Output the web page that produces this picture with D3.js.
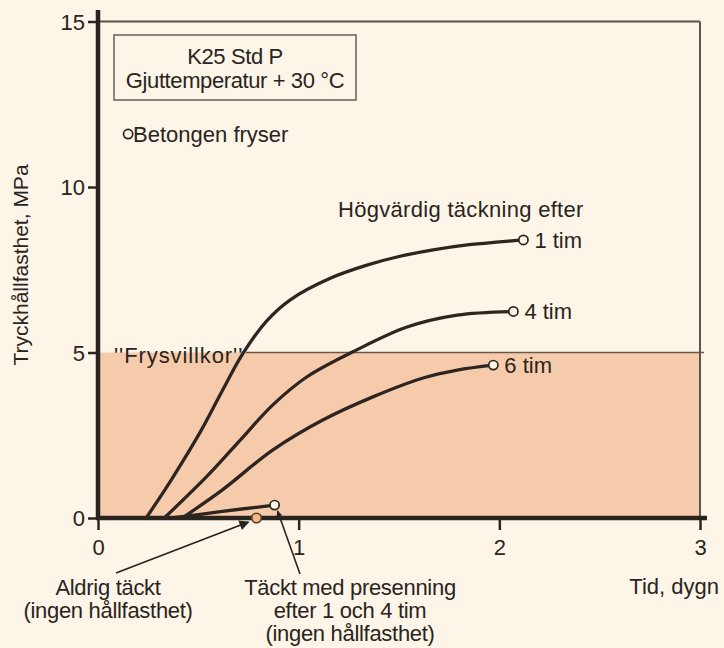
<!DOCTYPE html>
<html>
<head>
<meta charset="utf-8">
<script src="https://cdn.jsdelivr.net/npm/d3@7"></script>
<style>
  html, body { margin: 0; padding: 0; background: #fcf5e8; }
  svg { display: block; }
  text { font-family: "Liberation Sans", Arial, Helvetica, sans-serif; fill: #2a2420; }
</style>
</head>
<body>
<svg id="chart" width="724" height="648"></svg>
<script>
// Strength development: days after casting (x) vs compressive strength in MPa (y)
const xTicks = [0, 1, 2, 3];
const yTicks = [0, 5, 10, 15];

const curve1h = [[0.24, 0], [0.37, 1.2], [0.51, 2.6], [0.62, 3.85], [0.72, 4.95], [0.84, 5.95],
                 [0.96, 6.6], [1.16, 7.25], [1.34, 7.64], [1.50, 7.9], [1.67, 8.1],
                 [1.84, 8.25], [2.00, 8.34], [2.12, 8.40]];
const curve4h = [[0.33, 0], [0.54, 1.24], [0.71, 2.36], [0.87, 3.41], [1.04, 4.26], [1.27, 5.02],
                 [1.54, 5.77], [1.79, 6.13], [2.07, 6.24]];
const curve6h = [[0.42, 0], [0.62, 0.85], [0.87, 2.05], [1.12, 2.96], [1.37, 3.66], [1.62, 4.23],
                 [1.79, 4.47], [1.97, 4.62]];
const coveredTarp = [[0.37, 0], [0.62, 0.2], [0.88, 0.39]];
const neverCovered = [[0.79, 0]];
const freezePoint = [[0.15, 11.6]];
const freezeLimit = 5;

const seriesLabels = ["1 tim", "4 tim", "6 tim"];

const svg = d3.select("#chart");
const ink = "#2a2420";
const FS = 22;

const x = d3.scaleLinear().domain([0, 3]).range([98, 700]);
const y = d3.scaleLinear().domain([0, 15]).range([518, 21.5]);

// Shaded "freezing condition" band below 5 MPa
svg.append("rect")
  .attr("x", x(0)).attr("y", y(freezeLimit))
  .attr("width", x(3) - x(0)).attr("height", y(0) - y(freezeLimit))
  .attr("fill", "#f6cbab");

// Frame lines at the top and right
svg.append("line").attr("x1", x(0)).attr("x2", x(3)).attr("y1", y(15)).attr("y2", y(15))
  .attr("stroke", "#5a5550").attr("stroke-width", 2);
svg.append("line").attr("x1", x(3)).attr("x2", x(3)).attr("y1", y(15)).attr("y2", y(0))
  .attr("stroke", "#5a5550").attr("stroke-width", 2);

// 5 MPa limit line
svg.append("line").attr("x1", 246).attr("x2", x(3) + 4).attr("y1", y(freezeLimit)).attr("y2", y(freezeLimit))
  .attr("stroke", "#6e5648").attr("stroke-width", 1.6);

svg.append("text").attr("x", 114).attr("y", y(freezeLimit) + 10)
  .attr("font-size", FS).attr("letter-spacing", "0.9px").text("''Frysvillkor''");

// Axes
const yAxis = d3.axisLeft(y).tickValues(yTicks).tickSize(10).tickPadding(3).tickFormat(d3.format("d"));
const xAxis = d3.axisBottom(x).tickValues(xTicks).tickSize(12).tickPadding(9).tickFormat(d3.format("d"));

const gy = svg.append("g").attr("transform", `translate(${x(0)},0)`).call(yAxis);
const gx = svg.append("g").attr("transform", `translate(0,${y(0)})`).call(xAxis);

[gy, gx].forEach(g => {
  g.select(".domain").remove();
  g.selectAll(".tick line").attr("stroke", ink).attr("stroke-width", 2.5);
  g.selectAll(".tick text").attr("font-size", FS).attr("fill", ink)
    .style("font-family", "'Liberation Sans', Arial, sans-serif");
});
gy.selectAll(".tick text").attr("dy", "0.36em");

svg.append("line").attr("x1", x(0)).attr("x2", x(0)).attr("y1", 10).attr("y2", y(0) + 2)
  .attr("stroke", ink).attr("stroke-width", 4.5);
svg.append("line").attr("x1", x(0) - 2).attr("x2", x(3) + 7).attr("y1", y(0)).attr("y2", y(0))
  .attr("stroke", ink).attr("stroke-width", 4.5);

// Axis titles
svg.append("text").attr("transform", `translate(28,265) rotate(-90)`)
  .attr("text-anchor", "middle").attr("font-size", 21).text("Tryckhållfasthet, MPa");
svg.append("text").attr("x", 719).attr("y", 594).attr("text-anchor", "end")
  .attr("font-size", FS).text("Tid, dygn");

// Info box
svg.append("rect").attr("x", 114).attr("y", 35).attr("width", 242).attr("height", 65)
  .attr("fill", "none").attr("stroke", "#5a5550").attr("stroke-width", 1.4);
svg.append("text").attr("x", 235).attr("y", 64).attr("text-anchor", "middle")
  .attr("font-size", FS).attr("letter-spacing", "-0.4px").text("K25 Std P");
svg.append("text").attr("x", 235).attr("y", 88).attr("text-anchor", "middle")
  .attr("font-size", FS).attr("letter-spacing", "-0.4px").text("Gjuttemperatur + 30 °C");

// Strength curves
const line = d3.line().x(d => x(d[0])).y(d => y(d[1])).curve(d3.curveCatmullRom.alpha(0.5));
[curve1h, curve4h, curve6h, coveredTarp].forEach(c => {
  svg.append("path").datum(c).attr("d", line)
    .attr("fill", "none").attr("stroke", "#2e2420").attr("stroke-width", 3.3)
    .attr("stroke-linecap", "round");
});

// End markers
const ends = [curve1h, curve4h, curve6h, coveredTarp].map(c => c[c.length - 1]);
svg.selectAll("circle.end").data(ends.concat(freezePoint)).join("circle")
  .attr("cx", d => x(d[0])).attr("cy", d => y(d[1])).attr("r", 4.6)
  .attr("fill", "#fcf5e8").attr("stroke", "#2e2420").attr("stroke-width", 1.7);
svg.selectAll("circle.never").data(neverCovered).join("circle")
  .attr("cx", d => x(d[0])).attr("cy", d => y(d[1])).attr("r", 4.8)
  .attr("fill", "#f2b584").attr("stroke", "#5a3a28").attr("stroke-width", 1.6);

// Series labels
svg.append("text").attr("x", 338).attr("y", 217).attr("font-size", FS)
  .attr("letter-spacing", "0.3px").text("Högvärdig täckning efter");
[curve1h, curve4h, curve6h].forEach((c, i) => {
  const p = c[c.length - 1];
  svg.append("text").attr("x", x(p[0]) + 11).attr("y", y(p[1]) + 8)
    .attr("font-size", FS).text(seriesLabels[i]);
});

svg.append("text").attr("x", x(freezePoint[0][0]) + 5).attr("y", y(freezePoint[0][1]) + 8)
  .attr("font-size", FS).text("Betongen fryser");

// Annotations with leader arrows
const defs = svg.append("defs");
defs.append("marker").attr("id", "arr").attr("viewBox", "0 0 10 10")
  .attr("refX", 9).attr("refY", 5).attr("markerWidth", 7).attr("markerHeight", 6)
  .attr("orient", "auto").attr("markerUnits", "userSpaceOnUse")
  .append("path").attr("d", "M0,0 L10,5 L0,10 z").attr("fill", ink);
defs.append("marker").attr("id", "arrBig").attr("viewBox", "0 0 10 10")
  .attr("refX", 9).attr("refY", 5).attr("markerWidth", 14).attr("markerHeight", 10)
  .attr("orient", "auto").attr("markerUnits", "userSpaceOnUse")
  .append("path").attr("d", "M0,0 L10,5 L0,10 z").attr("fill", ink);

svg.append("line").attr("x1", 116).attr("y1", 573).attr("x2", x(neverCovered[0][0]) - 8).attr("y2", y(0) + 4)
  .attr("stroke", ink).attr("stroke-width", 1.8).attr("marker-end", "url(#arrBig)");
svg.append("line").attr("x1", 300).attr("y1", 574).attr("x2", x(coveredTarp[2][0]) + 3).attr("y2", y(coveredTarp[2][1]) + 6)
  .attr("stroke", ink).attr("stroke-width", 1.6).attr("marker-end", "url(#arr)");

const noteA = ["Aldrig täckt", "(ingen hållfasthet)"];
noteA.forEach((t, i) => svg.append("text").attr("x", 108).attr("y", 595 + i * 23)
  .attr("text-anchor", "middle").attr("font-size", FS).attr("letter-spacing", "-0.3px").text(t));
const noteB = ["Täckt med presenning", "efter 1 och 4 tim", "(ingen hållfasthet)"];
noteB.forEach((t, i) => svg.append("text").attr("x", 350).attr("y", 595 + i * 23)
  .attr("text-anchor", "middle").attr("font-size", FS).attr("letter-spacing", "-0.3px").text(t));
</script>
</body>
</html>
